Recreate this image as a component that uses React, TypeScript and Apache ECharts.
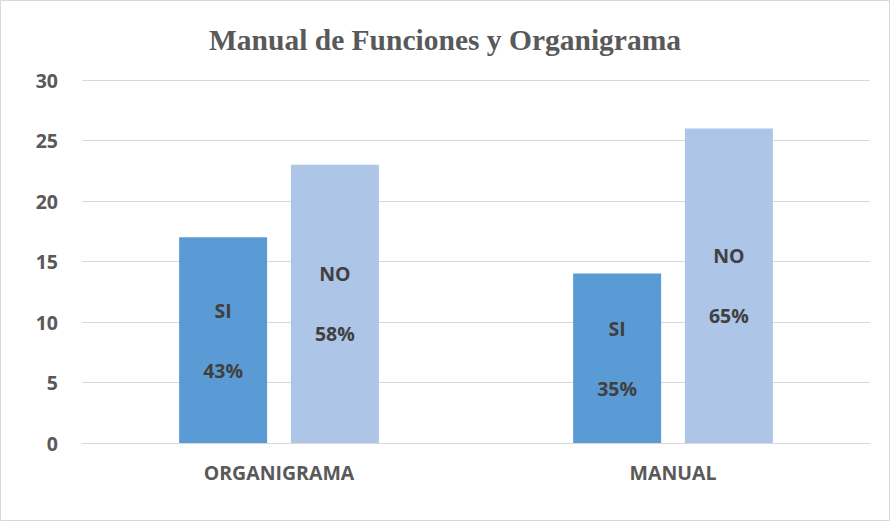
import React, { useEffect, useRef } from "react";
import * as echarts from "echarts";

const categories = ["ORGANIGRAMA", "MANUAL"];
const siValues = [17, 14];
const noValues = [23, 26];
const siPercents = ["43%", "35%"];
const noPercents = ["58%", "65%"];
const seriesNames = ["SI", "NO"];
const titleText = "Manual de Funciones y Organigrama";

const LABEL_FONT = "Open Sans";

export default function App() {
  const ref = useRef<HTMLDivElement>(null);
  useEffect(() => {
    if (!ref.current) return;
    const chart = echarts.init(ref.current, undefined, { renderer: "svg" });
    const mkLabel = (name: string, pcts: string[]) => ({
      show: true,
      position: "inside",
      formatter: (p: any) => `${name}\n\n${pcts[p.dataIndex]}`,
      color: "#404040",
      fontFamily: LABEL_FONT,
      fontWeight: "bold",
      fontSize: 19.5,
      lineHeight: 30,
    });
    chart.setOption({
      animation: false,
      backgroundColor: "#ffffff",
      title: {
        text: titleText,
        left: "center",
        top: 20,
        textStyle: {
          fontFamily: "Liberation Serif",
          fontWeight: "bold",
          fontSize: 29.5,
          color: "#595959",
        },
      },
      graphic: [
        {
          type: "rect",
          shape: { x: 0.5, y: 0.5, width: 889, height: 520 },
          style: { fill: "none", stroke: "#D9D9D9", lineWidth: 1 },
          silent: true,
        },
      ],
      grid: { left: 82, right: 20, top: 80, bottom: 78 },
      xAxis: {
        type: "category",
        data: categories,
        axisLine: { lineStyle: { color: "#D9D9D9", width: 1 } },
        axisTick: { show: false },
        axisLabel: {
          color: "#595959",
          fontFamily: LABEL_FONT,
          fontWeight: "bold",
          fontSize: 19.5,
          margin: 19,
        },
      },
      yAxis: {
        type: "value",
        min: 0,
        max: 30,
        interval: 5,
        axisLine: { show: false },
        axisTick: { show: false },
        splitLine: { lineStyle: { color: "#D9D9D9", width: 1 } },
        axisLabel: {
          color: "#595959",
          fontFamily: LABEL_FONT,
          fontWeight: "bold",
          fontSize: 19.5,
          margin: 24,
        },
      },
      series: [
        {
          name: seriesNames[0],
          type: "bar",
          data: siValues,
          barWidth: 88,
          barGap: "27%",
          itemStyle: { color: "#5B9BD5" },
          label: mkLabel(seriesNames[0], siPercents),
        },
        {
          name: seriesNames[1],
          type: "bar",
          data: noValues,
          barWidth: 88,
          barGap: "27%",
          itemStyle: { color: "#ADC5E7" },
          label: mkLabel(seriesNames[1], noPercents),
        },
      ],
    });
    return () => chart.dispose();
  }, []);
  return (
    <div
      ref={ref}
      style={{ position: "absolute", left: 0, top: 0, width: 890, height: 521 }}
    />
  );
}
